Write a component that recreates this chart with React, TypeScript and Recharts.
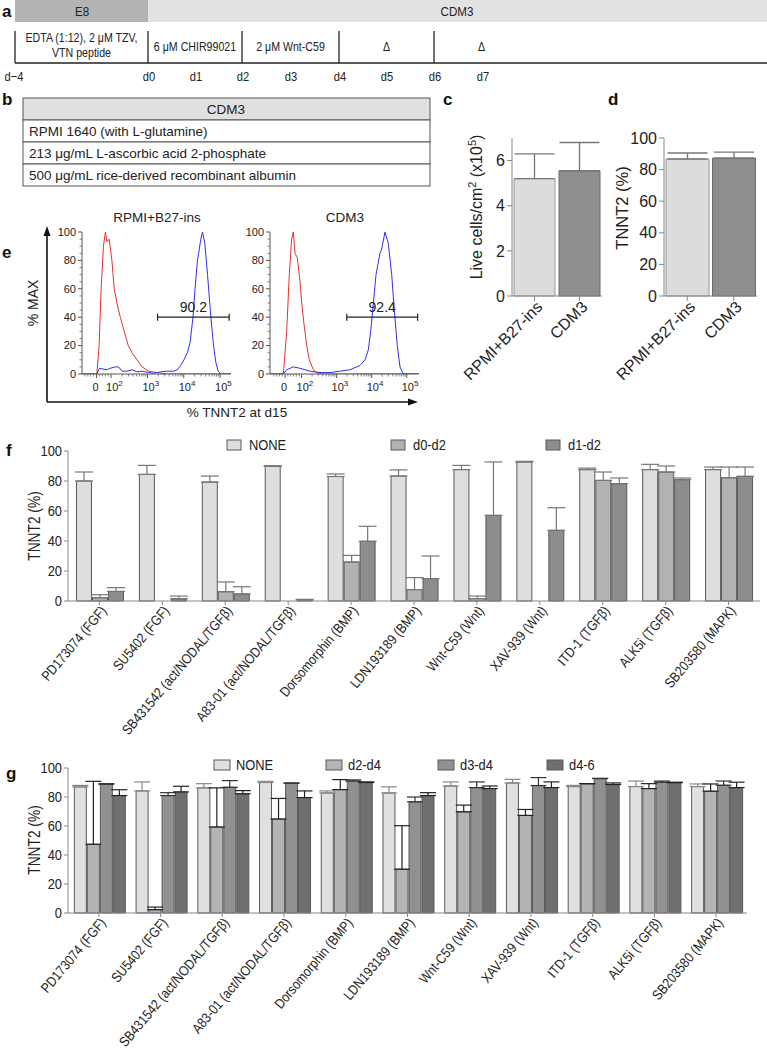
import React from 'react';
import { BarChart, Bar, XAxis, YAxis, ErrorBar, LineChart, Line, ReferenceLine, Cell } from 'recharts';

const FONT = '"Liberation Sans", Arial, Helvetica, sans-serif';

// ---------- panel a ----------
const mediumPhases = ['E8', 'CDM3'];
const dayLabels = ['d−4', 'd0', 'd1', 'd2', 'd3', 'd4', 'd5', 'd6', 'd7'];
const stageTexts = [['EDTA (1:12), 2 μM TZV,', 'VTN peptide'], ['6 μM  CHIR99021'], ['2 μM Wnt-C59'], ['Δ'], ['Δ']];

// ---------- panel b ----------
const cdm3Header = 'CDM3';
const cdm3Rows = ['RPMI 1640 (with L-glutamine)', '213 μg/mL L-ascorbic acid 2-phosphate', '500 μg/mL rice-derived recombinant albumin'];

// ---------- panels c, d ----------
const conditions = ['RPMI+B27-ins', 'CDM3'];
const liveCells = [5.2, 5.55];
const liveCellsErr = [1.1, 1.25];
const tnnt2Pct = [86.7, 87.3];
const tnnt2PctErr = [3.8, 3.7];
const conditionColors = ['#dcdcdc', '#8e8e8e'];
const conditionStrokes = ['#9a9a9a', '#6a6a6a'];

// ---------- panel e (x = log10 fluorescence position, y = % max) ----------
const flowTitles = ['RPMI+B27-ins', 'CDM3'];
const flowGateValues = ['90.2', '92.4'];
const flowXTickLabels = ['0', '2', '3', '4', '5'];
const redLeftX = [1.2, 1.607, 1.671, 1.726, 1.79, 1.845, 1.884, 1.948, 2.023, 2.086, 2.161, 2.253, 2.363, 2.474, 2.577, 2.715, 2.854, 3.028, 3.269, 3.546, 5.3];
const redLeftY = [0, 0, 20, 60, 90, 100, 93, 95, 80, 60, 50, 40, 30, 20, 15, 10, 5, 2, 1, 0, 0];
const blueLeftX = [1.2, 1.607, 1.679, 1.884, 1.976, 2.114, 2.206, 2.3, 2.438, 2.577, 2.715, 2.854, 3.037, 3.167, 3.361, 3.546, 3.729, 3.823, 3.915, 4.006, 4.1, 4.172, 4.255, 4.311, 4.377, 4.422, 4.469, 4.516, 4.58, 4.654, 4.746, 4.82, 4.884, 4.948, 5.023, 5.3];
const blueLeftY = [0, 0, 4, 3, 4, 5, 5, 2, 2, 3, 1.5, 2, 1, 0.5, 1.5, 2, 2, 3, 6, 10, 15, 22, 40, 60, 80, 87, 95, 100, 92, 70, 40, 20, 8, 2, 0, 0];
const redRightX = [1.1, 1.48, 1.576, 1.65, 1.718, 1.765, 1.813, 1.879, 1.956, 2.004, 2.07, 2.147, 2.221, 2.335, 2.432, 2.575, 5.35];
const redRightY = [0, 0, 30, 70, 95, 100, 85, 82, 65, 50, 35, 20, 10, 3, 1, 0, 0];
const blueRightX = [1.1, 1.48, 1.576, 1.765, 1.956, 2.241, 2.526, 2.811, 3.097, 3.382, 3.667, 3.81, 3.904, 3.972, 4.048, 4.124, 4.237, 4.285, 4.38, 4.474, 4.571, 4.645, 4.731, 4.808, 4.902, 5.35];
const blueRightY = [0, 0, 3, 5, 4, 2, 1, 1, 2, 3, 6, 10, 17, 30, 50, 70, 85, 88, 100, 92, 70, 45, 20, 5, 0, 0];

// ---------- panels f, g ----------
const inhibitors = ['PD173074 (FGF)', 'SU5402 (FGF)', 'SB431542 (act/NODAL/TGFβ)', 'A83-01 (act/NODAL/TGFβ)', 'Dorsomorphin (BMP)', 'LDN193189 (BMP)', 'Wnt-C59 (Wnt)', 'XAV-939 (Wnt)', 'ITD-1 (TGFβ)', 'ALK5i (TGFβ)', 'SB203580 (MAPK)'];

const fSeries = ['NONE', 'd0-d2', 'd1-d2'];
const fColors = ['#dedede', '#b2b2b4', '#8d8d8d'];
const fNone = [80, 84.4, 79.3, 89.8, 83, 83.3, 87.6, 92.7, 87.6, 87.6, 87.6];
const fNoneErr = [6, 6, 4, 0.4, 1.7, 4.1, 2.8, 0.4, 1, 3.5, 1.7];
const fD0D2 = [2.2, null, 6.2, null, 26, 7.6, 1.6, null, 80.4, 86, 82.2];
const fD0D2Err = [2, null, 6.5, null, 4.4, 8, 1.7, null, 5.6, 4, 7.1];
const fD1D2 = [6.4, 1.5, 4.7, 0.7, 39.8, 14.9, 57.1, 47.1, 78.2, 80.9, 83.1];
const fD1D2Err = [2.5, 1.8, 4.8, 0.4, 10, 15.1, 35.6, 15.1, 3.8, 1.1, 6.2];

const gSeries = ['NONE', 'd2-d4', 'd3-d4', 'd4-6'];
const gColors = ['#e0e0e0', '#b4b4b7', '#919191', '#6f6f6f'];
const gNone = [87, 84.2, 86.3, 90, 82.8, 82.8, 87.6, 89.7, 87.2, 87.2, 87.2];
const gNoneErr = [1, 6.2, 2.9, 0.8, 1.4, 4.2, 2.8, 2.5, 0.8, 3.8, 1.8];
const gD2D4 = [47.4, 2.3, 59.3, 64.8, 85.1, 30.2, 69.8, 67.3, 89.2, 85.8, 84];
const gD2D4Err = [43.4, 1.8, 27, 14.2, 6.9, 30, 4.6, 4.1, 0, 3.4, 5];
const gD3D4 = [88.8, 81, 86.7, 89.5, 91, 76.7, 86.5, 87.9, 92.7, 90.2, 88.1];
const gD3D4Err = [0.4, 2, 4.6, 0.2, 0.8, 3.3, 3.9, 5.5, 0.2, 0.8, 2.9];
const gD46 = [81, 83.5, 82.2, 79.6, 90, 81, 85.8, 86.5, 88.6, 89.9, 86.5];
const gD46Err = [4, 3.9, 2.2, 4.6, 0.4, 2, 1.8, 3.9, 1.1, 0.3, 3.7];

const pctTicks = [0, 20, 40, 60, 80, 100];

// ---------- helpers ----------
const errPair = (v: number | null, e: number | null) => (v == null || e == null ? null : [0, e]);

const fData = inhibitors.map((name, i) => ({
  name,
  NONE: fNone[i], NONE_e: errPair(fNone[i], fNoneErr[i]),
  'd0-d2': fD0D2[i], 'd0-d2_e': errPair(fD0D2[i], fD0D2Err[i]),
  'd1-d2': fD1D2[i], 'd1-d2_e': errPair(fD1D2[i], fD1D2Err[i]),
}));

const gData = inhibitors.map((name, i) => ({
  name,
  NONE: gNone[i], NONE_e: errPair(gNone[i], gNoneErr[i]),
  'd2-d4': gD2D4[i], 'd2-d4_e': errPair(gD2D4[i], gD2D4Err[i]),
  'd3-d4': gD3D4[i], 'd3-d4_e': errPair(gD3D4[i], gD3D4Err[i]),
  'd4-6': gD46[i], 'd4-6_e': errPair(gD46[i], gD46Err[i]),
}));

const cData = conditions.map((name, i) => ({ name, v: liveCells[i], e: [0, liveCellsErr[i]] }));
const dData = conditions.map((name, i) => ({ name, v: tnnt2Pct[i], e: [0, tnnt2PctErr[i]] }));

const zip = (xs: number[], ys: number[]) => xs.map((x, i) => ({ x, y: ys[i] }));

// condensed-looking text (Arial Narrow imitation)
const NText = ({ x, y, size, anchor = 'start', rotate = 0, sx = 0.86, dy, children }: any) => (
  <text
    transform={`translate(${x},${y}) rotate(${rotate}) scale(${sx},1)`}
    x={0}
    y={0}
    dy={dy}
    textAnchor={anchor}
    fontSize={size}
    fill="#222"
    fontFamily={FONT}
  >
    {children}
  </text>
);

const RotTick = (props: any) => {
  const { x, y, payload, fontSize, angle, sx } = props;
  return <NText x={x + 4} y={y + 1} size={fontSize} anchor="end" rotate={angle} sx={sx} dy="0.35em">{payload.value}</NText>;
};

const NarrowYTick = (props: any) => {
  const { x, y, payload } = props;
  return <NText x={x} y={y} size={15} anchor="end" dy="0.35em">{payload.value}</NText>;
};

const FlowXTick = (props: any) => {
  const { x, y, payload, majors } = props;
  const v = payload.value;
  const idx = majors.indexOf(v);
  if (idx < 0) return <line x1={x} x2={x} y1={y} y2={y + 2.5} stroke="#666" strokeWidth={0.8} />;
  const lab = flowXTickLabels[idx];
  return (
    <g>
      <line x1={x} x2={x} y1={y} y2={y + 4} stroke="#555" />
      {lab === '0' ? (
        <text x={x - 1} y={y + 17} textAnchor="middle" fontSize={11} fill="#222" fontFamily={FONT}>0</text>
      ) : (
        <text x={x - 5} y={y + 17} textAnchor="start" fontSize={11} fill="#222" fontFamily={FONT}>
          10<tspan dy={-5} fontSize={8}>{lab}</tspan>
        </text>
      )}
    </g>
  );
};

const FlowYTick = (props: any) => {
  const { x, y, payload } = props;
  const v = payload.value;
  const major = v % 20 === 0;
  if (!major) return <line x1={x} x2={x - 2.5} y1={y} y2={y} stroke="#666" strokeWidth={0.8} />;
  return (
    <g>
      <line x1={x} x2={x - 4} y1={y} y2={y} stroke="#555" />
      <text x={x - 6} y={y} dy="0.35em" textAnchor="end" fontSize={11} fill="#222" fontFamily={FONT}>{v}</text>
    </g>
  );
};

function FlowPlot({ domain, zeroPos, red, blue, gate, gateLabel }: any) {
  const majors = [zeroPos, 2, 3, 4, 5];
  const minors: number[] = [];
  for (let p = zeroPos - 0.32; p < 1.98; p += 0.08) {
    if (p > domain[0] && Math.abs(p - zeroPos) > 0.01) minors.push(+p.toFixed(3));
  }
  for (let n = 2; n <= 4; n++) for (let k = 2; k <= 9; k++) {
    const p = +(n + Math.log10(k)).toFixed(3);
    if (p < domain[1]) minors.push(p);
  }
  const xTicks = [...majors, ...minors].sort((a, b) => a - b);
  const yTicks: number[] = [];
  for (let v = 0; v <= 100; v += 5) yTicks.push(v);
  return (
    <LineChart width={42 + 149 + 5} height={7 + 142 + 26} margin={{ top: 7, right: 5, left: 0, bottom: 0 }}>
      <XAxis type="number" dataKey="x" domain={domain} allowDataOverflow ticks={xTicks} interval={0} tickSize={0} tickMargin={0} tickLine={false} height={26} axisLine={{ stroke: '#555' }} tick={<FlowXTick majors={majors} />} />
      <YAxis type="number" domain={[0, 100]} allowDataOverflow ticks={yTicks} interval={0} tickSize={0} tickMargin={0} tickLine={false} width={42} axisLine={{ stroke: '#555' }} tick={<FlowYTick />} />
      <Line data={red} dataKey="y" type="linear" stroke="#e5312f" strokeWidth={1} dot={false} isAnimationActive={false} />
      <Line data={blue} dataKey="y" type="linear" stroke="#2f2ff0" strokeWidth={1} dot={false} isAnimationActive={false} />
      <ReferenceLine segment={[{ x: gate[0], y: 40 }, { x: gate[1], y: 40 }]} stroke="#222" strokeWidth={1.2} label={{ value: gateLabel, position: 'top', fill: '#222', fontSize: 14, fontFamily: FONT }} />
      <ReferenceLine segment={[{ x: gate[0], y: 37.5 }, { x: gate[0], y: 42.5 }]} stroke="#222" strokeWidth={1.2} />
      <ReferenceLine segment={[{ x: gate[1], y: 37.5 }, { x: gate[1], y: 42.5 }]} stroke="#222" strokeWidth={1.2} />
    </LineChart>
  );
}

function GroupedChart({ data, series, colors, errColors, width, height, top, right, gap, errW, xh }: any) {
  return (
    <BarChart width={width} height={height} data={data} margin={{ top, right, left: 0, bottom: 0 }} barCategoryGap={gap} barGap={1}>
      <XAxis dataKey="name" interval={0} height={xh} tickSize={4} axisLine={{ stroke: '#888' }} tickLine={{ stroke: '#888' }} tick={<RotTick fontSize={14} angle={-50} sx={0.86} />} />
      <YAxis domain={[0, 100]} ticks={pctTicks} interval={0} width={68} tickSize={4} tickMargin={2} axisLine={{ stroke: '#888' }} tickLine={{ stroke: '#888' }} tick={<NarrowYTick />} />
      {series.map((s: string, i: number) => (
        <Bar key={s} dataKey={s} fill={colors[i]} stroke="#5a5a5a" strokeWidth={1} isAnimationActive={false}>
          <ErrorBar dataKey={`${s}_e`} width={errW} stroke={errColors[i]} strokeWidth={1.2} direction="y" />
        </Bar>
      ))}
    </BarChart>
  );
}

const CondTick = (props: any) => {
  const { x, y, payload } = props;
  const tx = x + 5;
  const ty = y + 1;
  return (
    <text x={tx} y={ty} transform={`rotate(-45, ${tx}, ${ty})`} textAnchor="end" dy="0.35em" fontSize={16} fill="#222" fontFamily={FONT}>
      {payload.value}
    </text>
  );
};

function CondChart({ data, domain, ticks, yw, width }: any) {
  return (
    <BarChart width={width} height={285} data={data} margin={{ top: 18, right: 8, left: 0, bottom: 0 }} barCategoryGap={2}>
      <XAxis dataKey="name" interval={0} height={109} tickSize={5} axisLine={{ stroke: '#888' }} tickLine={{ stroke: '#888' }} tick={<CondTick />} />
      <YAxis domain={domain} ticks={ticks} interval={0} width={yw} tickSize={5} tickMargin={2} axisLine={{ stroke: '#888' }} tickLine={{ stroke: '#888' }} tick={{ fontSize: 16, fill: '#222', fontFamily: FONT }} />
      <Bar dataKey="v" isAnimationActive={false} strokeWidth={1}>
        {data.map((d: any, i: number) => (
          <Cell key={d.name} fill={conditionColors[i]} stroke={conditionStrokes[i]} />
        ))}
        <ErrorBar dataKey="e" width={20} stroke="#777" strokeWidth={1.3} direction="y" />
      </Bar>
    </BarChart>
  );
}

const Letter = ({ x, y, t }: any) => (
  <text x={x} y={y} fontSize={17} fontWeight="bold" fill="#111" fontFamily={FONT}>{t}</text>
);

export default function App() {
  const dayX = [15, 148, 195, 242, 290, 339, 386, 434, 482];
  const stageBounds = [15, 148, 242, 339, 434, 529];
  const fLegendX = [227, 391, 546];
  const gLegendX = [214, 326, 438, 547];
  return (
    <div style={{ position: 'absolute', left: 0, top: 0, width: 767, height: 1050, background: '#fff', overflow: 'hidden', fontFamily: FONT }}>
      <svg width={767} height={1050} style={{ position: 'absolute', left: 0, top: 0 }}>
        {/* panel a */}
        <Letter x={2} y={17} t="a" />
        <rect x={15} y={0} width={133} height={22} fill="#b3b3b3" />
        <rect x={148} y={0} width={619} height={22} fill="#e2e2e2" />
        <NText x={82} y={16} size={13.5} anchor="middle">{mediumPhases[0]}</NText>
        <NText x={457} y={16} size={13.5} anchor="middle">{mediumPhases[1]}</NText>
        {[0, 1, 3, 5, 7].map((i) => (
          <line key={i} x1={dayX[i]} x2={dayX[i]} y1={31} y2={63} stroke="#222" strokeWidth={1.3} />
        ))}
        <line x1={15} x2={767} y1={63} y2={63} stroke="#222" strokeWidth={1.3} />
        {stageTexts.map((lines, i) => {
          const cx = (stageBounds[i] + stageBounds[i + 1]) / 2;
          if (lines.length === 2)
            return (
              <g key={i}>
                <NText x={cx} y={42} size={12.5} anchor="middle" sx={0.85}>{lines[0]}</NText>
                <NText x={cx} y={57} size={12.5} anchor="middle" sx={0.85}>{lines[1]}</NText>
              </g>
            );
          return <NText key={i} x={cx} y={51} size={12.5} anchor="middle" sx={0.85}>{lines[0]}</NText>;
        })}
        {dayLabels.map((d, i) => (
          <NText key={d} x={i === 0 ? 14 : dayX[i] + 1} y={81} size={13} anchor="middle">{d}</NText>
        ))}

        {/* panel b */}
        <Letter x={2} y={105} t="b" />
        <rect x={23} y={98} width={407} height={22} fill="#e0e0e0" stroke="#555" />
        <text x={226} y={114} textAnchor="middle" fontSize={13.5} fill="#222">{cdm3Header}</text>
        {cdm3Rows.map((r, i) => (
          <g key={r}>
            <rect x={23} y={120 + i * 22} width={407} height={22} fill="#fff" stroke="#555" />
            <text x={29} y={136 + i * 22} fontSize={13.5} fill="#222">{r}</text>
          </g>
        ))}

        {/* panel c, d letters and axis titles */}
        <Letter x={443} y={105} t="c" />
        <Letter x={608} y={105} t="d" />
        <text transform="translate(482, 207) rotate(-90)" textAnchor="middle" fontSize={16} fill="#222">
          Live cells/cm<tspan dy={-6} fontSize={11}>2</tspan><tspan dy={6}> (x10</tspan><tspan dy={-6} fontSize={11}>5</tspan><tspan dy={6}>)</tspan>
        </text>
        <text transform="translate(628, 208) rotate(-90)" textAnchor="middle" fontSize={16.5} fill="#222">TNNT2 (%)</text>

        {/* panel e */}
        <Letter x={2} y={258} t="e" />
        <text x={157} y={222} textAnchor="middle" fontSize={13.5} fill="#222">{flowTitles[0]}</text>
        <text x={345} y={222} textAnchor="middle" fontSize={13.5} fill="#222">{flowTitles[1]}</text>
        <line x1={47} x2={47} y1={402} y2={234} stroke="#111" strokeWidth={1.6} />
        <polygon points="47,226 43.5,236 50.5,236" fill="#111" />
        <line x1={47} x2={410} y1={402} y2={402} stroke="#111" strokeWidth={1.6} />
        <polygon points="418,402 408,398.5 408,405.5" fill="#111" />
        <text transform="translate(38, 303) rotate(-90)" textAnchor="middle" fontSize={14} fill="#222">% MAX</text>
        <text x={237} y={417} textAnchor="middle" fontSize={13.5} fill="#222">% TNNT2 at d15</text>

        {/* panel f */}
        <Letter x={6} y={456} t="f" />
        {fSeries.map((s, i) => (
          <g key={s}>
            <rect x={fLegendX[i]} y={440} width={14} height={10} fill={fColors[i]} stroke="#5a5a5a" />
            <NText x={fLegendX[i] + 22} y={450} size={15}>{s}</NText>
          </g>
        ))}
        <NText x={40} y={526} size={16} anchor="middle" rotate={-90}>TNNT2 (%)</NText>

        {/* panel g */}
        <Letter x={6} y={779} t="g" />
        {gSeries.map((s, i) => (
          <g key={s}>
            <rect x={gLegendX[i]} y={760} width={16} height={10} fill={gColors[i]} stroke="#5a5a5a" />
            <NText x={gLegendX[i] + 22} y={770} size={15}>{s}</NText>
          </g>
        ))}
        <NText x={40} y={840} size={16} anchor="middle" rotate={-90}>TNNT2 (%)</NText>
      </svg>

      <div style={{ position: 'absolute', left: 440, top: 120 }}>
        <CondChart data={cData} domain={[0, 7]} ticks={[0, 2, 4, 6]} yw={72} width={170} />
      </div>
      <div style={{ position: 'absolute', left: 600, top: 120 }}>
        <CondChart data={dData} domain={[0, 100]} ticks={pctTicks} yw={64} width={165} />
      </div>

      <div style={{ position: 'absolute', left: 40, top: 225 }}>
        <FlowPlot domain={[1.2, 5.3]} zeroPos={1.6} red={zip(redLeftX, redLeftY)} blue={zip(blueLeftX, blueLeftY)} gate={[3.28, 5.25]} gateLabel={flowGateValues[0]} />
      </div>
      <div style={{ position: 'absolute', left: 228, top: 225 }}>
        <FlowPlot domain={[1.1, 5.35]} zeroPos={1.53} red={zip(redRightX, redRightY)} blue={zip(blueRightX, blueRightY)} gate={[3.29, 5.31]} gateLabel={flowGateValues[1]} />
      </div>

      <div style={{ position: 'absolute', left: 0, top: 438 }}>
        <GroupedChart data={fData} series={fSeries} colors={fColors} errColors={['#777', '#777', '#777']} width={767} height={312} top={13} right={7} gap="13.5%" errW={9} xh={149} />
      </div>
      <div style={{ position: 'absolute', left: 0, top: 745 }}>
        <GroupedChart data={gData} series={gSeries} colors={gColors} errColors={['#888', '#222', '#333', '#222']} width={767} height={305} top={23} right={20} gap="10.3%" errW={8} xh={137} />
      </div>
    </div>
  );
}
